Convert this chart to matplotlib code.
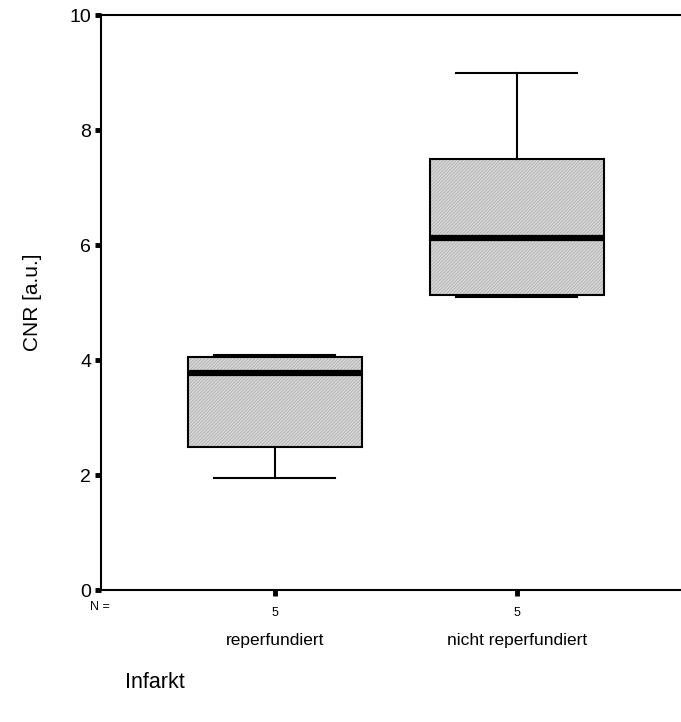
import numpy as np
import matplotlib.pyplot as plt
import matplotlib.transforms as mtransforms

plt.rcParams['font.family'] = ['Liberation Sans', 'DejaVu Sans']
plt.rcParams['hatch.linewidth'] = 0.5

groups = ['reperfundiert', 'nicht reperfundiert']
n_vals = [5, 5]
whislo = [1.95, 5.10]
q1 = [2.48, 5.13]
med = [3.78, 6.13]
q3 = [4.05, 7.50]
whishi = [4.08, 9.00]

stats = []
for i in range(len(groups)):
    stats.append(dict(whislo=whislo[i], q1=q1[i], med=med[i], q3=q3[i],
                      whishi=whishi[i], fliers=[], label=groups[i]))

fig = plt.figure(figsize=(6.81, 7.22), dpi=100)
ax = fig.add_axes([0.1483, 0.1828, 0.8517, 0.7964])

pos = [1, 2]
# hatched fill layer
ax.bxp(stats, positions=pos, widths=0.72, patch_artist=True,
       showcaps=False, boxprops=dict(facecolor='#d8d8d8', edgecolor='#a8a8a8',
                                     hatch='//////////', linewidth=0),
       whiskerprops=dict(linewidth=0), medianprops=dict(linewidth=0))
# outline layer
ax.bxp(stats, positions=pos, widths=0.72, patch_artist=True,
       boxprops=dict(facecolor='none', edgecolor='black', linewidth=1.5),
       whiskerprops=dict(color='black', linewidth=1.5),
       capprops=dict(color='black', linewidth=1.5),
       capwidths=0.5,
       medianprops=dict(color='black', linewidth=4.5, solid_capstyle='butt'))

ax.set_xlim(0.281, 2.68)
ax.set_ylim(0, 10)
ax.set_yticks([0, 2, 4, 6, 8, 10])
ax.set_xticks(pos)
ax.set_xticklabels([str(n) for n in n_vals], fontsize=9)
ax.tick_params(axis='y', direction='out', length=4, width=3.5, labelsize=14, pad=3)
ax.tick_params(axis='x', direction='out', length=4, width=3.5, pad=8)
ax.spines['right'].set_visible(False)
for s in ['left', 'bottom', 'top']:
    ax.spines[s].set_linewidth(1.5)

ax.set_ylabel('CNR [a.u.]', fontsize=15, labelpad=20)

trans = mtransforms.blended_transform_factory(ax.transData, fig.transFigure)
fig.text(100 / 681, 1 - 607 / 722, 'N =', fontsize=9, ha='center', va='center')
for p, g in zip(pos, groups):
    ax.text(p, 1 - 640 / 722, g, transform=trans, fontsize=12.5, ha='center', va='center')
fig.text(125 / 681, 1 - 683 / 722, 'Infarkt', fontsize=15.5, ha='left', va='center')

fig.savefig('out.png', dpi=100)
